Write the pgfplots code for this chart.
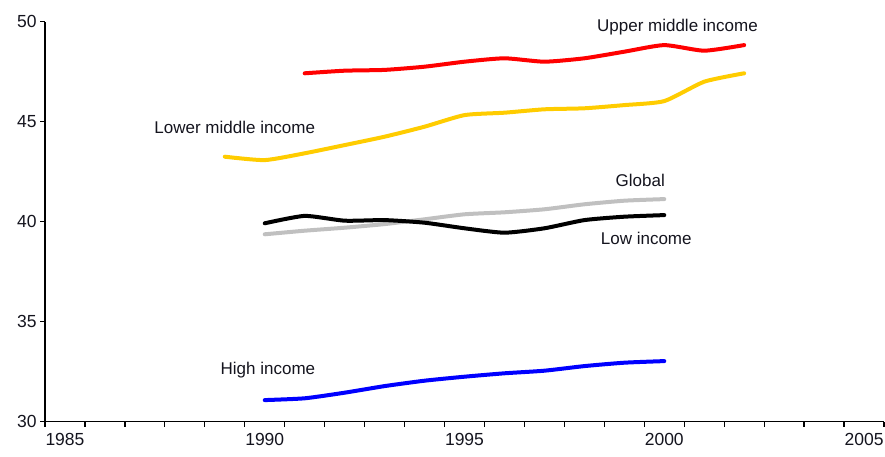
\documentclass[border=0pt]{standalone}
\usepackage{fontspec}
\setmainfont{Liberation Sans}
\usepackage{pgfplots}
\pgfplotsset{compat=1.18}
\definecolor{cUpper}{RGB}{255,0,0}
\definecolor{cLower}{RGB}{255,204,0}
\definecolor{cGlobal}{RGB}{192,192,192}
\definecolor{cLow}{RGB}{0,0,0}
\definecolor{cHigh}{RGB}{0,0,255}
\definecolor{cText}{RGB}{20,20,30}
\begin{document}
\begin{tikzpicture}
\begin{axis}[
  name=ax,
  at={(0,0)}, anchor=south west,
  scale only axis,
  width=839bp, height=400bp,
  xmin=1984.5, xmax=2005.5,
  ymin=30, ymax=50,
  axis lines=left,
  axis line style={-, line width=1.2bp, black},
  xtick={1985,1990,1995,2000,2005},
  major x tick style={draw=none},
  minor xtick={1984.5,1985.5,...,2005.5},
  minor x tick style={line width=1.2bp, black},
  ytick={30,35,40,45,50},
  y tick style={line width=1.2bp, black},
  tick align=outside,
  major tick length=5bp,
  minor tick length=5bp,
  /pgf/number format/assume math mode=true,
  /pgf/number format/1000 sep={},
  tick label style={font=\fontsize{17.5bp}{20bp}\selectfont, text=cText},
  xticklabel style={yshift=-3bp},
  clip=false,
  every axis plot/.append style={line width=4bp, smooth, tension=0.35, line cap=round, line join=round},
]
\addplot[cGlobal] coordinates {
 (1990,39.37) (1991,39.55) (1992,39.70) (1993,39.88) (1994,40.12)
 (1995,40.37) (1996,40.47) (1997,40.62) (1998,40.87) (1999,41.05) (2000,41.13)};
\addplot[cLow] coordinates {
 (1990,39.92) (1991,40.29) (1992,40.05) (1993,40.08) (1994,39.95)
 (1995,39.67) (1996,39.45) (1997,39.67) (1998,40.08) (1999,40.25) (2000,40.33)};
\addplot[cLower] coordinates {
 (1989,43.25) (1990,43.08) (1991,43.42) (1992,43.83) (1993,44.25) (1994,44.75)
 (1995,45.33) (1996,45.45) (1997,45.62) (1998,45.67) (1999,45.83) (2000,46.03)
 (2001,47.00) (2002,47.42)};
\addplot[cUpper] coordinates {
 (1991,47.42) (1992,47.55) (1993,47.59) (1994,47.75) (1995,48.00) (1996,48.17)
 (1997,48.00) (1998,48.17) (1999,48.50) (2000,48.83) (2001,48.55) (2002,48.83)};
\addplot[cHigh] coordinates {
 (1990,31.08) (1991,31.17) (1992,31.45) (1993,31.78) (1994,32.05)
 (1995,32.25) (1996,32.42) (1997,32.55) (1998,32.78) (1999,32.95) (2000,33.03)};
\begin{scope}[every node/.style={font=\fontsize{17bp}{20bp}\selectfont, text=cText, inner sep=0pt}]
\node at (axis cs:2000.33,49.73) {Upper middle income};
\node at (axis cs:1989.25,44.73) {Lower middle income};
\node at (axis cs:1999.40,42.08) {Global};
\node at (axis cs:1999.55,39.18) {Low income};
\node at (axis cs:1990.08,32.58) {High income};
\end{scope}
\end{axis}
\pgfresetboundingbox
\path[use as bounding box] (-45bp,-35.3bp) rectangle (840bp,421.7bp);
\end{tikzpicture}
\end{document}
